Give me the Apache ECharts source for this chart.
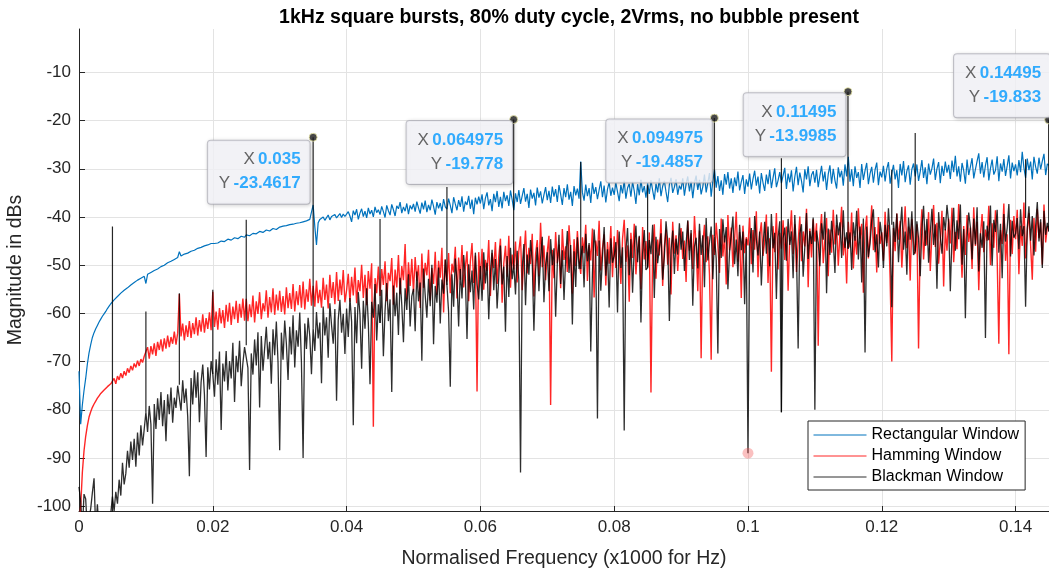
<!DOCTYPE html>
<html><head><meta charset="utf-8">
<script src="https://cdn.jsdelivr.net/npm/echarts@6/dist/echarts.min.js"></script>
<style>html,body{margin:0;padding:0;background:#fff}#c{width:1049px;height:573px}</style>
</head><body><div id="c"></div>
<script>
const titleText = '1kHz square bursts, 80% duty cycle, 2Vrms, no bubble present';
const xAxisName = 'Normalised Frequency (x1000 for Hz)';
const yAxisName = 'Magnitude in dBs';
const seriesNames = ['Rectangular Window', 'Hamming Window', 'Blackman Window'];
const yTickValues = [-100, -90, -80, -70, -60, -50, -40, -30, -20, -10];
const xTickValues = [0, 0.02, 0.04, 0.06, 0.08, 0.1, 0.12, 0.14];

// sampling grid: 0 .. 0.145 in steps of 0.00025 (581 bins)
const binHz = 0.00025;

const rectDb = [
-72,-83,-79,-76,-73.5,-70.5,-68.2,-66.5,-65.0,-64.0,-63.2,-62.5,-61.8,-61.2,-60.6,-60.1,-59.6,-59.0,-58.5,-58.0,
-57.6,-57.2,-56.8,-56.5,-56.1,-55.8,-55.5,-55.2,-54.9,-54.7,-54.4,-54.1,-53.8,-53.6,-53.4,-53.1,-52.9,-52.7,-52.5,-52.3,
-53.8,-51.9,-51.8,-51.5,-51.3,-51.1,-50.9,-50.8,-50.6,-50.3,-50.1,-50.0,-49.8,-49.5,-49.3,-49.2,-49.0,-48.8,-48.6,-48.4,
-47.2,-48.1,-48.0,-47.7,-47.6,-47.5,-47.4,-47.1,-47.0,-46.9,-46.8,-46.5,-46.4,-46.3,-46.2,-46.0,-45.9,-45.8,-45.7,-45.5,
-45.4,-45.5,-45.2,-45.4,-45.3,-45.0,-44.8,-45.1,-44.9,-44.6,-44.5,-44.8,-44.6,-44.3,-44.2,-44.5,-44.3,-44.0,-43.9,-44.2,
-43.7,-44.0,-43.9,-43.5,-43.4,-43.8,-43.5,-43.1,-43.0,-43.4,-43.2,-42.8,-42.7,-43.1,-42.9,-42.5,-42.4,-42.8,-42.6,-42.2,
-42.1,-42.5,-41.9,-42.3,-41.8,-42.2,-41.6,-42.0,-41.5,-41.9,-41.3,-41.7,-41.2,-41.6,-41.0,-41.4,-40.8,-41.1,-40.5,-40.2,
-37.5,-42.0,-45.8,-41.2,-40.5,-40.9,-40.0,-40.7,-40.4,-39.6,-40.6,-39.9,-40.3,-39.5,-40.2,-39.8,-39.3,-40.1,-39.4,-39.9,
-40.3,-38.9,-39.8,-41.0,-38.7,-39.6,-38.4,-40.5,-39.2,-38.3,-39.9,-38.8,-40.2,-38.1,-39.4,-38.6,-40.0,-37.9,-39.1,-38.5,
-39.5,-37.8,-38.9,-40.1,-37.6,-38.7,-39.6,-37.4,-38.5,-39.8,-37.7,-38.3,-36.9,-39.2,-37.9,-38.8,-37.2,-39.4,-37.6,-38.4,
-37.3,-38.9,-36.8,-38.1,-39.3,-37.0,-38.4,-36.6,-39.0,-37.5,-38.6,-36.4,-37.8,-39.5,-36.9,-38.2,-37.1,-38.8,-36.3,-37.9,
-38.4,-36.2,-37.6,-39.2,-35.9,-37.3,-38.6,-36.5,-37.9,-35.7,-38.9,-36.8,-37.5,-35.6,-38.3,-36.4,-39.4,-36.0,-37.4,-35.8,
-37.2,-35.3,-38.4,-36.1,-34.9,-37.6,-36.3,-38.8,-35.2,-36.9,-34.6,-37.9,-35.8,-38.2,-34.8,-36.7,-35.5,-37.7,-34.5,-36.4,
-38.6,-35.1,-36.9,-34.4,-37.3,-35.6,-34.0,-36.8,-35.2,-38.1,-34.3,-36.2,-35.0,-37.6,-33.9,-36.0,-34.7,-37.2,-35.4,-33.8,
-36.5,-34.6,-37.1,-33.7,-35.8,-34.2,-36.9,-33.4,-35.3,-37.5,-34.0,-35.9,-33.2,-36.4,-34.8,-37.7,-33.6,-35.5,-34.1,-36.2,
-28.5,-34.9,-36.6,-33.3,-35.7,-34.0,-37.1,-32.9,-35.2,-33.8,-36.3,-34.4,-32.6,-35.9,-33.5,-37.0,-34.2,-32.8,-35.6,-33.9,
-35.4,-32.9,-34.8,-36.7,-33.4,-35.1,-32.5,-36.2,-34.0,-33.1,-35.8,-32.7,-34.6,-37.3,-33.2,-35.5,-32.3,-34.9,-33.6,-36.0,
-33.0,-35.2,-32.4,-34.5,-36.4,-33.1,-34.9,-32.0,-35.7,-33.6,-32.5,-34.8,-36.9,-33.3,-31.9,-35.0,-33.8,-32.2,-35.4,-33.5,
-34.3,-32.0,-35.6,-33.2,-31.6,-34.7,-32.6,-36.1,-33.0,-31.4,-34.4,-32.3,-35.3,-33.7,-31.2,-34.9,-32.9,-30.9,-35.8,-32.5,
-30.2,-33.9,-31.5,-34.6,-32.4,-35.4,-31.1,-33.3,-30.7,-34.1,-32.0,-35.0,-31.8,-33.6,-30.6,-34.5,-32.7,-31.3,-35.2,-32.2,
-33.7,-31.0,-34.3,-32.1,-30.4,-33.5,-31.6,-35.1,-30.9,-32.9,-34.6,-31.2,-33.2,-30.2,-34.0,-31.9,-29.9,-33.8,-32.4,-30.7,
-33.0,-31.4,-29.8,-34.2,-31.0,-32.8,-30.3,-34.7,-31.7,-29.6,-33.4,-30.8,-32.5,-34.9,-30.1,-32.2,-29.5,-33.6,-31.3,-30.5,
-32.9,-30.2,-33.8,-31.5,-29.4,-32.6,-30.6,-34.4,-31.1,-29.3,-33.1,-30.0,-32.4,-34.1,-29.7,-31.8,-30.4,-33.5,-29.1,-31.6,
-27.5,-32.7,-30.1,-33.6,-29.5,-31.9,-30.7,-34.0,-29.0,-32.3,-30.4,-28.8,-33.2,-31.0,-29.6,-32.9,-30.2,-28.7,-33.4,-30.6,
-31.8,-29.4,-32.6,-30.0,-28.6,-33.1,-30.9,-29.2,-32.2,-30.3,-34.0,-29.0,-31.4,-28.4,-32.8,-30.5,-29.3,-33.3,-30.1,-28.9,
-31.6,-29.1,-32.5,-30.6,-28.2,-31.9,-29.7,-33.2,-28.9,-31.2,-29.9,-27.9,-32.3,-30.0,-28.6,-33.0,-29.4,-31.5,-28.5,-30.8,
-29.2,-32.1,-28.3,-30.7,-27.3,-31.6,-29.5,-32.7,-28.8,-30.4,-33.1,-28.1,-31.3,-29.6,-27.8,-32.0,-30.1,-28.4,-26.8,-31.0,
-28.6,-31.8,-29.3,-27.6,-32.4,-29.9,-28.1,-31.2,-30.3,-27.4,-32.6,-28.9,-30.6,-28.0,-31.5,-29.4,-27.2,-32.0,-28.7,-30.5,
-29.1,-31.4,-28.2,-30.7,-26.5,-29.8,-31.9,-27.9,-30.3,-28.5,-32.2,-27.5,-29.6,-31.0,-27.7,-30.1,-28.4,-26.9,-31.3,-29.0,
-29.3];

const hammingDb = [
-105,-100,-93,-88.5,-85.5,-83.3,-81.5,-80.4,-79.5,-78.8,-78.2,-77.6,-77.1,-76.6,-76.2,-75.9,-75.6,-75.2,-74.9,-74.6,
-74.3,-73.5,-74.6,-73.0,-73.8,-72.4,-73.4,-72.0,-72.9,-71.4,-72.3,-70.9,-71.8,-70.4,-71.2,-69.8,-70.9,-69.5,-70.2,-68.9,
-68.9,-67.0,-69.4,-66.8,-68.5,-66.2,-68.8,-65.9,-67.6,-65.4,-67.9,-65.2,-67.3,-64.6,-67.0,-64.9,-66.3,-63.8,-66.5,-64.1,
-56.0,-64.8,-62.1,-65.6,-62.5,-64.9,-61.6,-65.1,-62.0,-64.3,-60.8,-64.6,-61.4,-63.8,-60.2,-64.0,-61.0,-63.2,-59.8,-63.5,
-55.5,-62.8,-59.6,-63.4,-58.9,-62.1,-59.3,-63.0,-58.2,-61.7,-57.8,-62.4,-58.6,-61.2,-57.4,-62.0,-58.0,-60.9,-56.9,-61.5,
-57.0,-61.6,-58.1,-60.8,-56.3,-61.9,-57.5,-60.1,-55.6,-61.2,-57.9,-59.6,-55.2,-60.9,-56.6,-59.8,-54.8,-60.3,-56.1,-59.4,
-55.3,-59.7,-56.4,-60.2,-54.6,-58.9,-55.8,-59.1,-53.9,-59.6,-55.4,-58.3,-54.1,-58.8,-53.4,-59.2,-55.0,-57.6,-52.8,-58.4,
-54.3,-58.6,-53.2,-57.9,-55.1,-58.8,-52.6,-57.2,-54.0,-59.0,-52.0,-56.8,-53.5,-58.1,-51.4,-57.4,-53.0,-56.2,-51.0,-57.7,
-55.2,-51.8,-57.6,-52.4,-56.3,-50.5,-57.9,-53.1,-55.4,-49.9,-56.8,-52.0,-58.3,-51.2,-54.9,-49.6,-83.5,-52.7,-55.8,-50.3,
-56.4,-50.8,-54.1,-49.2,-57.5,-51.6,-53.3,-48.5,-58.2,-50.9,-54.6,-47.9,-56.0,-50.2,-53.1,-45.6,-57.1,-49.4,-54.3,-48.7,
-55.6,-48.3,-53.2,-50.0,-58.9,-47.6,-54.7,-49.5,-52.1,-46.8,-57.3,-50.6,-53.9,-47.2,-56.2,-49.1,-52.6,-46.4,-59.8,-48.8,
-53.4,-47.5,-55.8,-49.7,-51.5,-46.2,-56.9,-48.4,-53.0,-45.8,-54.6,-50.3,-47.1,-57.5,-49.2,-45.4,-53.7,-48.0,-76.2,-47.3,
-52.8,-46.6,-55.1,-48.9,-51.2,-44.8,-56.4,-47.5,-50.6,-45.2,-53.9,-48.2,-44.5,-57.8,-49.6,-46.0,-52.4,-43.9,-54.7,-47.8,
-50.9,-45.1,-53.6,-47.0,-44.0,-55.2,-48.3,-42.8,-51.7,-46.4,-49.8,-43.5,-56.5,-47.7,-44.8,-52.3,-41.2,-50.4,-45.9,-53.1,
-47.2,-43.9,-79.0,-46.8,-52.7,-43.1,-49.6,-45.7,-54.8,-42.5,-48.9,-46.1,-51.4,-41.7,-47.8,-55.9,-44.6,-50.2,-42.9,-48.4,
-51.8,-44.2,-47.5,-41.6,-53.3,-45.8,-49.0,-42.4,-56.7,-44.9,-48.1,-40.8,-51.1,-46.5,-43.6,-54.2,-45.2,-49.7,-41.9,-52.5,
-44.0,-50.6,-42.7,-47.4,-53.9,-44.5,-40.6,-49.3,-45.9,-57.6,-43.3,-48.5,-41.4,-51.9,-46.7,-44.1,-55.0,-42.1,-48.8,-45.0,
-50.3,-43.2,-76.4,-47.1,-41.5,-52.8,-44.7,-48.0,-40.4,-54.3,-46.2,-42.6,-49.9,-44.3,-56.1,-41.0,-47.6,-43.8,-51.2,-45.4,
-42.3,-48.7,-44.9,-53.5,-40.9,-47.0,-43.4,-50.8,-39.8,-46.3,-55.4,-42.8,-69.3,-45.5,-41.6,-49.4,-44.0,-52.1,-69.6,-43.7,
-47.9,-41.2,-45.8,-51.6,-40.3,-48.2,-43.9,-54.0,-39.6,-46.9,-42.2,-50.4,-44.6,-38.9,-49.3,-43.1,-56.8,-41.8,-47.5,-44.2,
-45.9,-40.1,-49.8,-42.7,-46.8,-38.8,-52.5,-43.8,-41.1,-48.1,-45.0,-39.5,-53.7,-44.4,-72.1,-41.9,-47.3,-39.2,-50.9,-43.3,
-46.6,-40.7,-48.9,-42.0,-55.3,-44.1,-38.6,-47.7,-41.5,-51.4,-45.3,-39.9,-49.2,-43.0,-46.1,-38.3,-54.6,-42.4,-48.4,-40.5,
-45.1,-41.3,-66.7,-43.6,-39.4,-49.6,-44.8,-40.2,-52.3,-42.6,-47.4,-38.5,-45.7,-41.7,-50.1,-43.4,-37.9,-48.0,-44.2,-53.8,
-41.0,-46.3,-39.1,-50.7,-43.9,-47.8,-38.2,-44.5,-41.4,-55.7,-42.9,-39.7,-48.6,-44.0,-37.6,-46.9,-42.1,-51.5,-40.0,-45.6,
-43.2,-49.1,-38.9,-45.4,-41.6,-52.7,-70.0,-42.3,-47.1,-39.3,-44.7,-40.8,-50.5,-43.7,-37.8,-46.5,-42.0,-53.2,-40.4,-45.0,
-47.6,-41.5,-67.3,-44.3,-38.4,-48.8,-42.8,-45.9,-39.0,-51.2,-43.5,-37.5,-46.2,-41.2,-49.7,-44.9,-38.7,-54.4,-42.5,-47.0,
-40.3,-45.5,-38.1,-49.4,-43.1,-46.7,-37.3,-44.0,-52.6,-41.9,-47.9,-39.6,-45.2,-42.2,-50.8,-38.0,-46.0,-41.0,-55.2,-43.8,
-39.4,-47.3,-42.6,-44.9,-37.7,-50.0,-41.3,-46.4,-38.6,-48.3,-66.3,-42.7,-45.6,-37.2,-49.1,-43.6,-68.5,-40.6,-47.7,-39.8,
-44.6,-38.5,-51.9,-41.8,-46.0,-37.0,-48.6,-43.0,-39.2,-45.8,-53.0,-40.2,-47.2,-38.3,-44.4,-41.1,-49.9,-37.4,-45.3,-42.0,
-42.0];

const blackmanDb = [
-96,-99,-105,-97.5,-98.5,-105,-105,-100.5,-97.2,-94.2,-105,-99.6,-105,-105,-105,-105,-105,-105,-105,-105,
-98.0,-101,-97.0,-99.5,-94.5,-97.8,-91.0,-95.5,-93.2,-88.5,-92.0,-86.6,-90.4,-86.0,-91.8,-84.7,-89.5,-83.2,-87.4,-84.0,
-80.5,-84.6,-79.2,-83.0,-99.5,-78.8,-84.0,-77.6,-82.1,-76.3,-83.4,-78.0,-86.5,-76.8,-80.9,-75.4,-82.7,-77.5,-79.6,-75.0,
-74.8,-80.2,-73.9,-78.6,-75.6,-81.4,-93.8,-73.4,-78.9,-71.8,-77.5,-72.2,-82.6,-74.3,-70.6,-76.9,-89.8,-71.2,-75.8,-69.9,
-72.6,-77.3,-69.5,-74.8,-67.9,-84.2,-70.4,-74.1,-67.8,-76.0,-69.9,-73.5,-66.1,-78.4,-68.8,-72.2,-65.7,-75.1,-70.3,-67.0,
-66.6,-71.3,-92.5,-68.3,-72.7,-65.4,-70.8,-63.9,-79.5,-64.7,-71.9,-67.2,-62.8,-69.5,-65.9,-74.6,-63.3,-68.7,-61.7,-70.1,
-88.4,-64.0,-69.6,-61.5,-66.3,-73.8,-62.8,-68.5,-60.4,-71.2,-63.5,-66.9,-59.8,-70.2,-90.0,-62.1,-67.4,-60.9,-64.8,-72.6,
-63.1,-67.8,-59.7,-65.2,-61.9,-74.5,-58.6,-64.6,-60.8,-69.2,-57.9,-62.4,-66.3,-59.1,-78.1,-61.3,-57.2,-64.0,-60.1,-68.4,
-59.0,-64.9,-56.8,-61.7,-83.2,-58.7,-66.2,-55.6,-60.3,-71.5,-57.4,-63.2,-54.8,-62.0,-74.7,-57.6,-60.9,-53.9,-65.6,-58.1,
-62.0,-55.1,-68.9,-59.4,-53.7,-61.6,-57.1,-76.3,-54.2,-60.6,-55.7,-64.5,-52.6,-58.2,-66.0,-54.8,-59.3,-51.9,-62.7,-56.4,
-54.9,-63.7,-51.3,-57.5,-53.6,-69.8,-50.7,-56.2,-60.9,-52.8,-58.5,-49.9,-66.4,-54.3,-57.8,-50.5,-62.1,-53.0,-55.9,-48.9,
-54.1,-59.7,-75.2,-51.9,-58.6,-48.6,-53.3,-62.7,-50.8,-56.9,-47.9,-52.4,-65.3,-49.8,-55.6,-51.1,-59.2,-47.4,-53.9,-57.1,
-50.2,-57.4,-47.3,-53.8,-49.5,-61.2,-51.6,-46.8,-55.2,-48.7,-59.0,-52.5,-45.9,-54.0,-50.3,-63.8,-48.1,-56.6,-46.4,-52.9,
-49.9,-56.1,-47.0,-53.2,-93.0,-50.6,-45.6,-58.3,-47.8,-52.0,-44.8,-49.1,-63.6,-51.2,-46.3,-55.4,-48.5,-44.1,-57.7,-50.0,
-47.3,-55.4,-44.6,-50.0,-46.5,-60.7,-49.7,-43.7,-53.9,-46.9,-57.2,-48.4,-42.9,-51.6,-45.8,-62.3,-47.1,-54.5,-44.2,-50.8,
-50.8,-46.0,-54.6,-43.5,-49.2,-45.4,-67.9,-51.7,-42.6,-47.6,-81.8,-44.9,-55.3,-48.3,-42.1,-52.2,-46.7,-58.8,-44.4,-49.5,
-48.1,-45.2,-59.8,-43.0,-50.6,-46.3,-84.3,-47.0,-42.3,-52.1,-44.6,-55.7,-46.3,-41.8,-49.4,-43.9,-61.9,-47.5,-42.7,-51.0,
-50.5,-44.8,-47.7,-41.6,-56.8,-44.1,-49.6,-46.5,-43.4,-53.0,-48.2,-40.9,-45.0,-61.6,-46.9,-42.8,-51.8,-44.5,-47.8,-41.3,
-46.8,-43.0,-51.2,-45.6,-40.7,-48.9,-42.7,-58.4,-46.1,-44.3,-50.7,-41.4,-47.9,-43.8,-54.6,-40.2,-49.0,-45.2,-42.0,-52.9,
-44.0,-48.6,-68.3,-42.5,-48.5,-40.5,-45.3,-42.1,-55.0,-47.2,-43.7,-39.9,-49.8,-44.7,-52.3,-41.6,-46.9,-43.0,-58.1,-44.5,
-89.0,-45.7,-42.3,-51.5,-39.8,-44.6,-48.0,-43.0,-54.2,-45.9,-41.0,-47.6,-42.0,-50.2,-39.4,-46.5,-43.3,-57.0,-44.2,-40.9,
-80.5,-44.4,-42.2,-49.1,-40.4,-45.8,-43.0,-52.7,-39.6,-47.0,-67.3,-43.4,-41.5,-52.4,-46.2,-39.2,-48.7,-42.9,-45.6,-40.1,
-80.0,-42.8,-45.3,-50.2,-41.3,-44.7,-38.9,-55.8,-42.4,-47.9,-40.8,-45.0,-51.6,-39.5,-43.8,-41.1,-48.5,-38.6,-46.4,-43.2,
-46.6,-43.2,-51.0,-41.1,-44.9,-38.7,-48.8,-42.0,-53.6,-40.3,-68.1,-42.0,-48.3,-45.5,-40.7,-38.4,-47.3,-43.6,-50.5,-41.0,
-43.8,-50.6,-41.6,-46.1,-38.2,-44.0,-58.7,-41.0,-45.2,-39.3,-49.4,-42.6,-37.9,-46.8,-43.0,-52.0,-40.1,-44.7,-38.8,-47.9,
-47.1,-40.9,-44.5,-52.3,-42.3,-37.7,-46.0,-40.4,-49.5,-43.3,-38.3,-45.8,-41.5,-54.9,-39.0,-44.1,-47.6,-40.0,-42.8,-37.5,
-41.2,-55.4,-43.7,-38.1,-47.0,-40.7,-44.6,-37.4,-49.9,-42.5,-61.0,-44.2,-39.1,-42.1,-48.8,-40.3,-45.7,-38.0,-51.3,-43.4,
-46.4,-40.9,-65.1,-41.8,-44.8,-37.6,-50.1,-40.6,-43.1,-38.5,-47.4,-41.4,-52.7,-39.4,-45.1,-42.3,-37.3,-48.2,-40.8,-44.3,
-43.5,-40.2,-46.7,-38.4,-44.0,-41.9,-58.6,-42.2,-37.8,-44.9,-39.8,-48.0,-41.9,-36.9,-45.1,-40.5,-50.6,-38.7,-43.7,-41.2,
-43.0];

// narrow harmonic peaks of the Blackman trace (frequency, floor, peak)
const peakHz   = [0.005, 0.01, 0.015, 0.02, 0.025, 0.035, 0.045, 0.055, 0.064975, 0.075, 0.085, 0.094975, 0.105, 0.11495, 0.1215, 0.125, 0.1415, 0.14495];
const peakLoDb = [-105, -80.5, -74.8, -72.6, -66.6, -63.1, -62.0, -54.1, -50.0, -50.8, -50.5, -44.0, -80.5, -46.6, -41.6, -47.1, -40.2, -43.0];
const peakHiDb = [-42.0, -59.6, -55.8, -55.1, -40.6, -23.4617, -40.4, -33.8, -19.778, -28.6, -33.4, -19.4857, -27.8, -13.9985, -30.2, -22.6, -28.0, -19.833];

// data tips
const tipHz = [0.035, 0.064975, 0.094975, 0.11495, 0.14495];
const tipDb = [-23.4617, -19.778, -19.4857, -13.9985, -19.833];
// faded marker
const markHz = [0.1];
const markDb = [-89];

const FONT = '"Liberation Sans", Arial, Helvetica, sans-serif';
const onGrid = ys => ys.map((y, i) => [+(i * binHz).toFixed(5), y]);
const pairs = (xs, ys) => xs.map((x, i) => [x, ys[i]]);
const peakData = [];
peakHz.forEach((f, i) => { peakData.push([f, peakLoDb[i]], [f, peakHiDb[i]], [f, '-']); });

const tipPlace = [
  {align: 'right', verticalAlign: 'top', position: [1, 8]},
  {align: 'right', verticalAlign: 'top', position: [3, 6]},
  {align: 'right', verticalAlign: 'top', position: [2, 6]},
  {align: 'right', verticalAlign: 'top', position: [2, 6]},
  {align: 'right', verticalAlign: 'bottom', position: [6, 2]}
];
const tipData = tipHz.map((f, i) => ({value: [f, tipDb[i]], label: tipPlace[i]}));

const chart = echarts.init(document.getElementById('c'), null, {renderer: 'canvas'});
chart.setOption({
  animation: false,
  backgroundColor: '#ffffff',
  title: {
    text: titleText, left: 564, textAlign: 'center', top: 3,
    textStyle: {fontFamily: FONT, fontSize: 19.5, fontWeight: 'bold', color: '#000'}
  },
  grid: {left: 79, right: 0, top: 29, bottom: 62, containLabel: false, outerBoundsMode: 'none'},
  legend: {
    orient: 'vertical', left: 808, top: 421,
    data: seriesNames,
    itemWidth: 53, itemHeight: 14, itemGap: 5,
    padding: [6, 6, 5, 5],
    itemStyle: {opacity: 0},
    lineStyle: {width: 1},
    backgroundColor: '#ffffff', borderColor: '#262626', borderWidth: 1,
    textStyle: {fontFamily: FONT, fontSize: 16, color: '#000'},
    selectedMode: false
  },
  xAxis: {
    type: 'value', min: 0, max: 0.145, interval: 0.02,
    name: xAxisName, nameLocation: 'middle', nameGap: 38,
    nameTextStyle: {fontFamily: FONT, fontSize: 19.5, color: '#262626'},
    axisLine: {show: true, onZero: false, lineStyle: {color: '#262626', width: 1}},
    axisTick: {show: true, inside: true, length: 5, lineStyle: {color: '#262626'}},
    axisLabel: {fontFamily: FONT, fontSize: 17, color: '#262626', margin: 8,
      showMaxLabel: false,
      formatter: v => xTickValues.some(t => Math.abs(t - v) < 1e-9) ? String(+v.toFixed(2)) : ''},
    splitLine: {show: true, lineStyle: {color: '#e3e3e3', width: 1}}
  },
  yAxis: {
    type: 'value', min: -101, max: -1,
    name: yAxisName, nameLocation: 'middle', nameGap: 50, nameRotate: 90,
    nameTextStyle: {fontFamily: FONT, fontSize: 19.5, color: '#262626'},
    axisLine: {show: true, onZero: false, lineStyle: {color: '#262626', width: 1}},
    axisTick: {show: true, inside: true, length: 6, customValues: yTickValues, lineStyle: {color: '#262626'}},
    axisLabel: {fontFamily: FONT, fontSize: 17, color: '#262626', margin: 8, customValues: yTickValues},
    splitLine: {show: true, lineStyle: {color: '#e3e3e3', width: 1}}
  },
  series: [
    {name: seriesNames[0], type: 'line', data: onGrid(rectDb), symbol: 'none',
     lineStyle: {color: '#0072BD', width: 1.2}, itemStyle: {color: '#0072BD'}, z: 2, clip: true},
    {name: seriesNames[1], type: 'line', data: onGrid(hammingDb), symbol: 'none',
     lineStyle: {color: 'rgba(255,0,0,0.85)', width: 1.4}, itemStyle: {color: '#ff3333'}, z: 3, clip: true},
    {name: seriesNames[2], type: 'line', data: onGrid(blackmanDb), symbol: 'none',
     lineStyle: {color: 'rgba(0,0,0,0.82)', width: 1.3}, itemStyle: {color: '#000'}, z: 4, clip: true},
    {name: seriesNames[2], type: 'line', data: peakData, symbol: 'none', connectNulls: false,
     lineStyle: {color: 'rgba(0,0,0,0.85)', width: 1.2}, itemStyle: {color: '#000'}, z: 4, clip: true},
    {name: 'marker', type: 'scatter', data: pairs(markHz, markDb), symbol: 'circle', symbolSize: 11,
     itemStyle: {color: 'rgba(240,80,80,0.45)'}, z: 5, silent: true},
    {name: 'tips', type: 'scatter', data: tipData, symbol: 'circle', symbolSize: 8,
     itemStyle: {color: '#1a1a1a', borderColor: '#f3f0b0', borderWidth: 1}, z: 10, silent: true,
     label: {
       show: true,
       formatter: p => '{k|X} {v|' + p.value[0] + '}\n{k|Y} {v|' + p.value[1] + '}',
       backgroundColor: '#f8f8fc', borderColor: '#b8b8c0', borderWidth: 1, borderRadius: 3,
       padding: [7, 9, 8, 11],
       shadowBlur: 4, shadowColor: 'rgba(0,0,0,0.18)', shadowOffsetX: 1, shadowOffsetY: 1,
       rich: {
         k: {fontFamily: FONT, fontSize: 17, color: '#404040', lineHeight: 24},
         v: {fontFamily: FONT, fontSize: 17, color: '#0099ff', fontWeight: 'bold', lineHeight: 24}
       }
     }}
  ]
});
</script>
</body></html>
